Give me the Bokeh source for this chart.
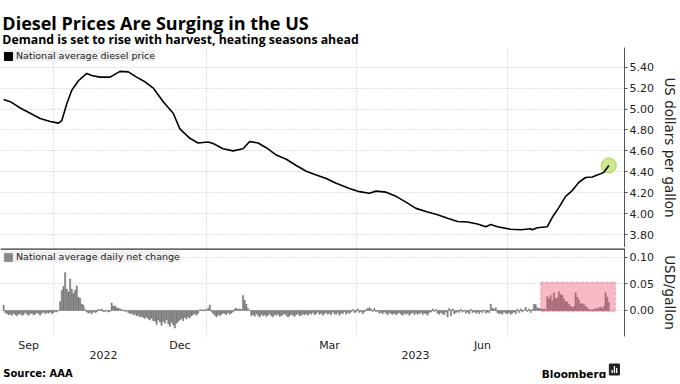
import pandas as pd
from bokeh.plotting import figure
from bokeh.models import (ColumnDataSource, Range1d, FixedTicker, DatetimeTickFormatter,
                          NumeralTickFormatter, DatetimeAxis, Legend, LegendItem,
                          BoxAnnotation, Span, Label)
from bokeh.layouts import column
from bokeh.core.properties import value
from bokeh.embed import file_html
from bokeh.resources import INLINE

# ---------------- texts ----------------
title = "Diesel Prices Are Surging in the US"
subtitle = "Demand is set to rise with harvest, heating seasons ahead"
source_note = "Source: AAA"
brand = "Bloomberg"
price_label = "National average diesel price"
change_label = "National average daily net change"
price_axis_label = "US dollars per gallon"
change_axis_label = "USD/gallon"

# ---------------- data ----------------
price_dates = [
    "2022-09-01", "2022-09-05", "2022-09-11", "2022-09-17", "2022-09-23", "2022-09-29",
    "2022-10-04", "2022-10-06", "2022-10-09", "2022-10-12", "2022-10-16", "2022-10-21",
    "2022-10-24", "2022-10-29", "2022-11-04", "2022-11-10", "2022-11-15", "2022-11-20",
    "2022-11-25", "2022-11-30", "2022-12-06", "2022-12-12", "2022-12-16", "2022-12-22",
    "2022-12-27", "2023-01-02", "2023-01-05", "2023-01-11", "2023-01-17", "2023-01-23",
    "2023-01-27", "2023-02-01", "2023-02-06", "2023-02-12", "2023-02-18", "2023-02-24",
    "2023-03-02", "2023-03-08", "2023-03-14", "2023-03-20", "2023-03-28", "2023-04-03",
    "2023-04-09", "2023-04-13", "2023-04-19", "2023-04-25", "2023-05-01", "2023-05-07",
    "2023-05-14", "2023-05-20", "2023-05-26", "2023-06-01", "2023-06-07", "2023-06-13",
    "2023-06-18", "2023-06-21", "2023-06-25", "2023-07-03", "2023-07-09", "2023-07-15",
    "2023-07-16", "2023-07-19", "2023-07-25", "2023-07-28", "2023-08-01", "2023-08-05",
    "2023-08-09", "2023-08-13", "2023-08-17", "2023-08-21", "2023-08-26", "2023-08-28",
    "2023-08-31",
]
price_values = [
    5.09, 5.07, 5.01, 4.96, 4.91, 4.88,
    4.865, 4.89, 5.05, 5.18, 5.27, 5.34,
    5.32, 5.305, 5.305, 5.36, 5.355, 5.305,
    5.26, 5.20, 5.07, 4.96, 4.81, 4.72,
    4.675, 4.685, 4.67, 4.62, 4.60, 4.62,
    4.69, 4.675, 4.63, 4.56, 4.52, 4.46,
    4.405, 4.37, 4.335, 4.29, 4.24, 4.21,
    4.195, 4.215, 4.205, 4.165, 4.11, 4.05,
    4.015, 3.99, 3.955, 3.925, 3.92, 3.90,
    3.875, 3.895, 3.875, 3.85, 3.845, 3.855,
    3.845, 3.865, 3.875, 3.965, 4.06, 4.165,
    4.22, 4.30, 4.345, 4.35, 4.38, 4.395,
    4.46,
]

change_start = "2022-09-01"
change_sep22 = [0.010, -0.004, -0.006, -0.008, -0.007, -0.009, -0.005, -0.008, -0.010, -0.007,
                -0.006, -0.009, -0.008, -0.004, -0.007, -0.009, -0.006, -0.005, -0.008, -0.007,
                -0.004, -0.006, -0.009, -0.005, -0.003, -0.006, -0.004, -0.005, -0.003, -0.006]
change_oct22 = [-0.004, -0.002, -0.003, 0.000, 0.017, 0.038, 0.045, 0.071, 0.040, 0.035,
                0.059, 0.040, 0.032, 0.038, 0.046, 0.025, 0.023, 0.012, 0.010, 0.002,
                -0.003, -0.005, -0.004, -0.006, -0.002, -0.004, -0.003, 0.002, 0.001, 0.003,
                -0.002]
change_nov22 = [-0.002, -0.001, -0.003, -0.002, 0.014, 0.008, 0.009, 0.005, 0.004, 0.003,
                0.002, -0.001, -0.002, -0.001, -0.004, -0.006, -0.005, -0.008, -0.007, -0.010,
                -0.009, -0.012, -0.011, -0.013, -0.015, -0.012, -0.016, -0.018, -0.014, -0.019]
change_dec22 = [-0.020, -0.026, -0.018, -0.022, -0.028, -0.020, -0.024, -0.017, -0.025, -0.030,
                -0.022, -0.027, -0.033, -0.024, -0.021, -0.018, -0.015, -0.019, -0.013, -0.016,
                -0.012, -0.014, -0.010, -0.008, -0.006, -0.009, -0.005, 0.001, 0.002, -0.001,
                0.002]
change_jan23 = [0.001, 0.004, 0.010, -0.002, -0.006, -0.009, -0.012, -0.008, -0.010, -0.007,
                -0.005, -0.006, -0.008, -0.004, -0.007, -0.005, -0.003, 0.003, 0.004, 0.002,
                0.003, 0.002, 0.028, 0.019, 0.012, 0.004, 0.000, -0.010, -0.008, -0.011,
                -0.006]
change_feb23 = [-0.009, -0.012, -0.007, -0.010, -0.008, -0.011, -0.009, -0.006, -0.010, -0.012,
                -0.008, -0.009, -0.007, -0.011, -0.010, -0.008, -0.006, -0.009, -0.012, -0.010,
                -0.007, -0.009, -0.011, -0.008, -0.006, -0.010, -0.009, -0.007]
change_mar23 = [-0.008, -0.006, -0.009, -0.005, -0.007, -0.004, -0.008, -0.006, -0.003, -0.007,
                -0.005, -0.009, -0.006, -0.004, -0.007, -0.005, -0.008, -0.003, -0.006, -0.007,
                -0.004, -0.009, -0.005, -0.006, -0.002, -0.007, -0.004, -0.005, -0.003, 0.002,
                -0.004]
change_apr23 = [-0.003, 0.003, -0.004, -0.002, -0.006, -0.003, 0.002, 0.004, 0.005, 0.003,
                -0.002, 0.004, -0.003, -0.001, -0.005, -0.004, -0.006, -0.003, -0.005, -0.008,
                -0.004, -0.006, -0.007, -0.005, -0.008, -0.006, -0.004, -0.007, -0.009, -0.005]
change_may23 = [-0.007, -0.005, -0.009, -0.006, -0.004, -0.008, -0.005, -0.007, -0.006, -0.004,
                -0.008, -0.005, -0.006, -0.009, -0.004, -0.003, 0.003, -0.002, 0.002, -0.005,
                -0.007, -0.004, -0.006, -0.008, -0.003, -0.012, 0.004, -0.010, 0.003, -0.006,
                -0.004]
change_jun23 = [-0.002, -0.004, 0.002, -0.003, -0.001, -0.005, -0.003, -0.006, 0.002, -0.004,
                -0.002, -0.005, -0.003, -0.006, -0.002, -0.004, 0.001, -0.005, -0.003, -0.004,
                0.012, 0.004, 0.003, 0.005, -0.004, -0.006, -0.005, -0.007, -0.003, -0.005]
change_jul23 = [-0.006, -0.004, -0.007, -0.005, -0.003, -0.006, 0.002, -0.004, 0.003, -0.003,
                0.001, 0.006, -0.002, 0.003, -0.004, 0.002, 0.012, 0.011, 0.005, 0.004,
                0.003, 0.002, 0.003, 0.002, 0.026, 0.022, 0.028, 0.018, 0.033, 0.022,
                0.024]
change_aug23 = [0.035, 0.030, 0.028, 0.022, 0.017, 0.016, 0.012, 0.008, 0.006, 0.007,
                0.033, 0.025, 0.020, 0.012, 0.013, 0.011, 0.008, 0.005, 0.002, 0.001,
                0.002, 0.001, 0.004, 0.003, 0.005, 0.006, 0.004, 0.008, 0.033, 0.025,
                0.015]

price_ticks = [3.80, 4.00, 4.20, 4.40, 4.60, 4.80, 5.00, 5.20, 5.40]
change_ticks = [0.00, 0.05, 0.10]
month_ticks = ["2022-09-16", "2022-12-16", "2023-03-16", "2023-06-16"]
quarter_lines = ["2022-10-01", "2023-01-01", "2023-04-01", "2023-07-01"]
year_boundary = "2023-01-01"
x_start, x_end = "2022-08-30 03:00", "2023-09-09 10:00"
price_lo, price_hi = 3.676, 5.588
change_lo, change_hi = -0.0487, 0.116
highlight_start, highlight_end = "2023-07-21", "2023-09-04"
highlight_low, highlight_high = -0.002, 0.053

# ---------------- prep ----------------
FONT = "DejaVu Sans"
HEAD_FONT = "Open Sans"
DAY_MS = 86400000


def ms(d):
    return float(pd.Timestamp(d).value // 10**6)


change_values = (change_sep22 + change_oct22 + change_nov22 + change_dec22 + change_jan23 +
                 change_feb23 + change_mar23 + change_apr23 + change_may23 + change_jun23 +
                 change_jul23 + change_aug23)
change_dates = pd.date_range(change_start, periods=len(change_values), freq="D")

price_src = ColumnDataSource(dict(date=pd.to_datetime(price_dates), price=price_values))
change_src = ColumnDataSource(dict(date=change_dates, change=change_values))
end_src = ColumnDataSource(dict(date=[pd.Timestamp(price_dates[-1])], price=[price_values[-1]]))

x_range = Range1d(ms(x_start), ms(x_end))
FRAME_W = 624
PAGE_W = 680

GRID_COLOR = "#c4c4c4"
AXIS_COLOR = "#555555"
TEXT_COLOR = "#222222"


def style_right_axis(ax, label):
    ax.axis_label = label
    ax.axis_label_text_font = FONT
    ax.axis_label_text_font_size = "13.5px"
    ax.axis_label_text_font_style = "normal"
    ax.axis_label_text_color = TEXT_COLOR
    ax.axis_label_standoff = 5
    ax.major_label_text_font = FONT
    ax.major_label_text_font_size = "11px"
    ax.major_label_text_color = TEXT_COLOR
    ax.major_label_standoff = 2
    ax.axis_line_color = AXIS_COLOR
    ax.major_tick_line_color = AXIS_COLOR
    ax.major_tick_out = 3
    ax.major_tick_in = 0
    ax.minor_tick_out = 0
    ax.minor_tick_in = 0
    ax.formatter = NumeralTickFormatter(format="0.00")


def style_grids(p, yticks):
    for g in p.xgrid:
        g.axis = None
        g.ticker = FixedTicker(ticks=[ms(d) for d in quarter_lines])
        g.grid_line_color = GRID_COLOR
        g.grid_line_dash = "1 2"
    for g in p.ygrid:
        g.ticker = FixedTicker(ticks=yticks)
        g.grid_line_color = GRID_COLOR
        g.grid_line_dash = "1 2"


def style_legend(leg):
    leg.location = "top_left"
    leg.margin = 3
    leg.padding = 5
    leg.spacing = 0
    leg.glyph_width = 10
    leg.glyph_height = 10
    leg.label_height = 11
    leg.label_standoff = 3
    leg.label_text_font = FONT
    leg.label_text_font_size = "9.5px"
    leg.label_text_color = TEXT_COLOR
    leg.background_fill_color = "#eeeeee"
    leg.background_fill_alpha = 0.95
    leg.border_line_color = None
    leg.inactive_fill_alpha = 0


# ---------------- header ----------------
head = figure(width=PAGE_W, height=47, x_range=Range1d(0, PAGE_W), y_range=Range1d(0, 47),
              x_axis_location=None, y_axis_location=None, output_backend="svg",
              toolbar_location=None, min_border=0, outline_line_color=None)
head.grid.visible = False
head.add_layout(Label(x=2, y=24.5, text=title, text_font=HEAD_FONT, text_font_style="bold",
                      text_font_size="18px", text_color="black", text_baseline="alphabetic"))
head.add_layout(Label(x=2, y=8, text=subtitle, text_font=HEAD_FONT, text_font_style="bold",
                      text_font_size="12.3px", text_color="black", text_baseline="alphabetic"))

# ---------------- price panel ----------------
top = figure(frame_width=FRAME_W, frame_height=200, x_range=x_range,
             y_range=Range1d(price_lo, price_hi), x_axis_location=None,
             y_axis_location="right", output_backend="svg", toolbar_location=None,
             min_border_left=0, min_border_right=0, min_border_top=0, min_border_bottom=0,
             outline_line_color=None)
top.yaxis.ticker = FixedTicker(ticks=price_ticks)
style_right_axis(top.yaxis[0], price_axis_label)
style_grids(top, price_ticks)

top.scatter("date", "price", source=end_src, size=15, fill_color="#c6e47e", fill_alpha=0.85,
            line_color="#a9d35a", line_width=1)
top.line("date", "price", source=price_src, line_color="black", line_width=1.6)
# legend key (a filled square, as in the reference); renderer itself hidden
key = top.vbar(x="date", top="price", width=1, source=price_src, fill_color="black",
               line_color="black", visible=False)
leg_top = Legend(items=[LegendItem(label=value(price_label), renderers=[key])])
style_legend(leg_top)
top.add_layout(leg_top)

# ---------------- change panel ----------------
bot = figure(frame_width=FRAME_W, frame_height=88, x_range=x_range,
             y_range=Range1d(change_lo, change_hi), x_axis_type="datetime",
             y_axis_location="right", output_backend="svg", toolbar_location=None,
             min_border_left=0, min_border_right=0, min_border_top=1, min_border_bottom=0,
             outline_line_color=None)
bot.yaxis.ticker = FixedTicker(ticks=change_ticks)
style_right_axis(bot.yaxis[0], change_axis_label)
style_grids(bot, change_ticks)

bars = bot.vbar(x="date", top="change", bottom=0, width=0.72 * DAY_MS, source=change_src,
                fill_color="#888888", line_color="#555555", line_width=0.4)
leg_bot = Legend(items=[LegendItem(label=value(change_label), renderers=[bars])])
style_legend(leg_bot)
bot.add_layout(leg_bot)

bot.add_layout(BoxAnnotation(left=ms(highlight_start), right=ms(highlight_end),
                             bottom=highlight_low, top=highlight_high,
                             fill_color="#eb4f70", fill_alpha=0.4,
                             line_color="#e2507a", line_width=1.5, line_dash="3 2"))
bot.add_layout(Span(location=change_hi, dimension="width", line_color="#333333", line_width=2.5))

mx = bot.xaxis[0]
mx.ticker = FixedTicker(ticks=[ms(d) for d in month_ticks])
mx.formatter = DatetimeTickFormatter(days="%b", months="%b", years="%b", hours="%b",
                                     hourmin="%b", minutes="%b", minsec="%b", seconds="%b",
                                     milliseconds="%b", microseconds="%b")
yr_ticks = [(ms(x_start) + ms(year_boundary)) / 2, (ms(year_boundary) + ms(x_end)) / 2]
yx = DatetimeAxis(ticker=FixedTicker(ticks=yr_ticks),
                  formatter=DatetimeTickFormatter(days="%Y", months="%Y", years="%Y", hours="%Y",
                                                  hourmin="%Y", minutes="%Y", minsec="%Y",
                                                  seconds="%Y", milliseconds="%Y",
                                                  microseconds="%Y"))
bot.add_layout(yx, "below")
for ax, st in ((mx, 2), (yx, -4)):
    ax.axis_line_color = None
    ax.major_tick_out = 0
    ax.major_tick_in = 0
    ax.minor_tick_out = 0
    ax.minor_tick_in = 0
    ax.major_label_standoff = st
    ax.major_label_text_font = FONT
    ax.major_label_text_font_size = "11px"
    ax.major_label_text_color = TEXT_COLOR

# ---------------- footer ----------------
foot = figure(width=PAGE_W, height=17, x_range=Range1d(0, PAGE_W), y_range=Range1d(0, 17),
              x_axis_location=None, y_axis_location=None, output_backend="svg",
              toolbar_location=None, min_border=0, outline_line_color=None)
foot.grid.visible = False
foot.add_layout(Label(x=3, y=5, text=source_note, text_font=FONT, text_font_style="bold",
                      text_font_size="10px", text_color="black", text_baseline="alphabetic"))
foot.add_layout(Label(x=660, y=5, text=brand, text_font=FONT, text_font_style="bold",
                      text_font_size="10.5px", text_color="black", text_align="right",
                      text_baseline="alphabetic"))
foot.rect(x=[669], y=[9], width=11, height=11, fill_color="#222222", line_color="#222222")
foot.vbar(x=[666.5, 669, 671.5], top=[8.5, 12.5, 10.5], bottom=5.5, width=1.4,
          fill_color="white", line_color=None)

layout = column(head, top, bot, foot, spacing=0)
open("out.html", "w").write(file_html(layout, INLINE))
